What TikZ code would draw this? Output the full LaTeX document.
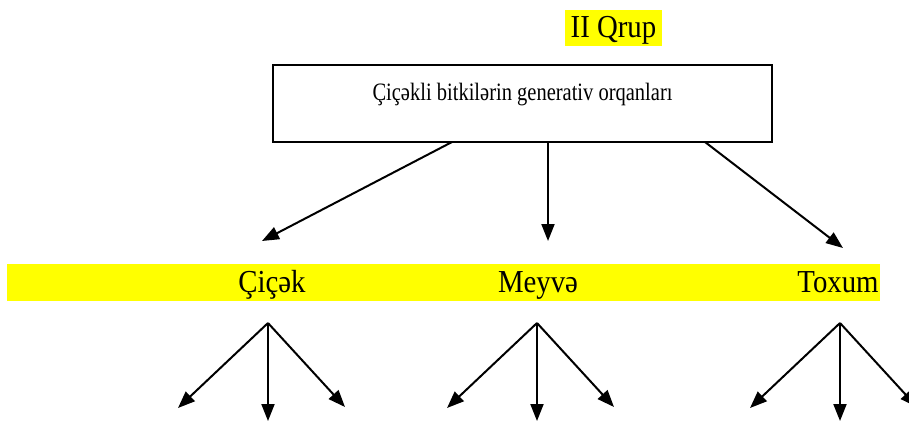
\documentclass[tikz,border=0pt]{standalone}
\usepackage{fontspec}
\setmainfont{Liberation Serif}
\usetikzlibrary{arrows.meta}
\definecolor{hl}{RGB}{255,255,0}
\begin{document}
\begin{tikzpicture}[x=1pt,y=-1pt,
  boxtxt/.style={font=\fontsize{25}{28}\selectfont, inner sep=0pt, anchor=base, xscale=0.82},
  lbl/.style={font=\fontsize{32}{36}\selectfont, inner sep=0pt, anchor=base, xscale=0.9},
  arr/.style={line width=2pt, -{Triangle[length=17pt,width=13pt]}}]
\useasboundingbox (0,0) rectangle (909,421);
% title
\fill[hl] (565,10) rectangle (662,46);
\node[lbl] (title) at (613.5,37) {II Qrup};
% main box
\node[draw, line width=2pt, minimum width=499pt, minimum height=77pt, inner sep=0pt] (box) at (522.5,103.5) {};
\node[boxtxt] (boxtext) at (522.5,100) {Çiçəkli bitkilərin generativ orqanları};
% band
\fill[hl] (7,264) rectangle (880,301);
\node[lbl] (c) at (272,292) {Çiçək};
\node[lbl] (m) at (538,292) {Meyvə};
\node[lbl] (t) at (838,292) {Toxum};
% upper arrows
\coordinate (b1) at (452,142);
\coordinate (b2) at (548,142);
\coordinate (b3) at (705,142);
\coordinate (e1) at (262,241);
\coordinate (e2) at (548,241);
\coordinate (e3) at (843,248);
\draw[arr] (b1) -- (e1);
\draw[arr] (b2) -- (e2);
\draw[arr] (b3) -- (e3);
% lower arrows
\foreach \n/\x in {c/268, m/537, t/840}{
  \coordinate (\n apex) at (\x,323);
  \coordinate (\n L) at (\x-90,408);
  \coordinate (\n M) at (\x,421);
  \coordinate (\n R) at (\x+77,407);
  \draw[arr] (\n apex) -- (\n L);
  \draw[arr] (\n apex) -- (\n M);
  \draw[arr] (\n apex) -- (\n R);
}
\end{tikzpicture}
\end{document}
